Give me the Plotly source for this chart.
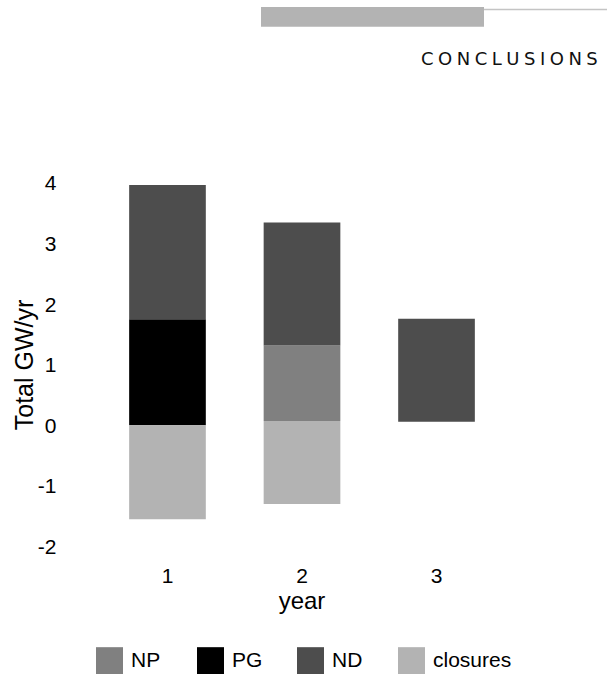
import plotly.graph_objects as go

W, H = 607, 676

years = [1, 2, 3]
year_labels = ["1", "2", "3"]

# Segment bounds (GW/yr) per series: lower and upper edge of each bar piece
np_low = [None, 0.07, None]
np_high = [None, 1.32, None]
pg_low = [0.0, None, None]
pg_high = [1.75, None, None]
nd_low = [1.75, 1.32, 0.06]
nd_high = [3.97, 3.35, 1.76]
closures_low = [-1.55, -1.30, None]
closures_high = [0.0, 0.07, None]

series_names = ["NP", "PG", "ND", "closures"]
series_colors = ["#808080", "#000000", "#4d4d4d", "#b3b3b3"]
series_low = [np_low, pg_low, nd_low, closures_low]
series_high = [np_high, pg_high, nd_high, closures_high]

y_ticks = [-2, -1, 0, 1, 2, 3, 4]

FONT = "Liberation Sans, Arial, sans-serif"


def px(x):
    return x / W


def py(y):
    return 1 - y / H


fig = go.Figure()
for name, color, lo, hi in zip(series_names, series_colors, series_low, series_high):
    val = [(h - l) if (h is not None and l is not None) else None for l, h in zip(lo, hi)]
    fig.add_trace(go.Bar(
        x=years, y=val, base=lo, name=name,
        marker=dict(color=color, line=dict(width=0)),
        width=0.57, showlegend=False, hoverinfo="skip",
    ))

shapes = []
annotations = []

# Header band and rule
shapes.append(dict(type="rect", xref="paper", yref="paper",
                   x0=px(261), x1=px(484), y0=py(27), y1=py(7),
                   fillcolor="#b3b3b3", line=dict(width=0)))
shapes.append(dict(type="line", xref="paper", yref="paper",
                   x0=px(484), x1=px(607), y0=py(9.5), y1=py(9.5),
                   line=dict(color="#c4c4c4", width=1.5)))
annotations.append(dict(
    xref="paper", yref="paper", x=px(600), y=py(59),
    xanchor="right", yanchor="middle", showarrow=False,
    text="\u2005".join("CONCLUSIONS"),
    font=dict(family="DejaVu Sans", size=18, color="#111111"),
))

# Vertical axis title
annotations.append(dict(
    xref="paper", yref="paper", x=px(24), y=py(368),
    xanchor="center", yanchor="middle", showarrow=False, textangle=-90,
    text="Total GW/yr", font=dict(family=FONT, size=25, color="#000000"),
))

# Legend row
legend_x = [96, 197, 297, 398]
for lx, name, color in zip(legend_x, series_names, series_colors):
    shapes.append(dict(type="rect", xref="paper", yref="paper",
                       x0=px(lx), x1=px(lx + 27), y0=py(679), y1=py(652),
                       fillcolor=color, line=dict(width=0)))
    annotations.append(dict(
        xref="paper", yref="paper", x=px(lx + 33), y=py(664),
        xanchor="left", yanchor="middle", showarrow=False,
        text=name, font=dict(family=FONT, size=21, color="#000000"),
    ))

fig.update_layout(
    width=W, height=H,
    margin=dict(l=0, r=0, t=0, b=0),
    paper_bgcolor="white", plot_bgcolor="white",
    barmode="overlay",
    shapes=shapes, annotations=annotations,
    font=dict(family=FONT, color="#000000"),
    xaxis=dict(
        domain=[66.6 / W, 537.4 / W], range=[0.25, 3.75],
        tickvals=years, ticktext=year_labels,
        tickfont=dict(size=21), ticks="outside", ticklen=4,
        tickcolor="rgba(0,0,0,0)",
        showgrid=False, zeroline=False, showline=False,
        title=dict(text="year", font=dict(size=24), standoff=5),
    ),
    yaxis=dict(
        domain=[1 - 556.6 / H, 1 - 166.2 / H], range=[-2.1, 4.3],
        tickvals=y_ticks, ticktext=[str(v) for v in y_ticks],
        tickfont=dict(size=21), ticks="outside", ticklen=5,
        tickcolor="rgba(0,0,0,0)",
        showgrid=False, zeroline=False, showline=False,
    ),
)

fig.write_html("out.html")
